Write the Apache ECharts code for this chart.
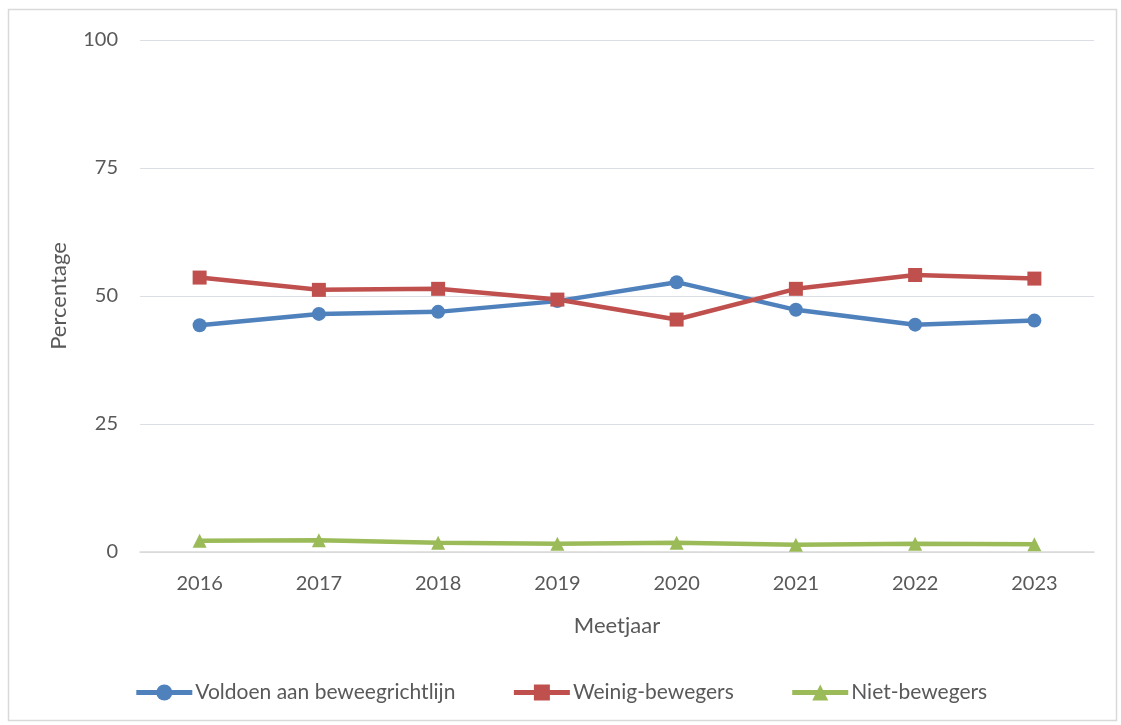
<!DOCTYPE html>
<html><head><meta charset="utf-8">
<script src="https://cdn.jsdelivr.net/npm/echarts@6/dist/echarts.min.js"></script>
<style>html,body{margin:0;padding:0;background:#fff}#c{width:1121px;height:725px}</style>
</head><body><div id="c"></div>
<script>
const years = ['2016','2017','2018','2019','2020','2021','2022','2023'];
const voldoen = [44.3, 46.5, 46.9, 49.0, 52.7, 47.3, 44.4, 45.2];
const weinig = [53.6, 51.2, 51.4, 49.3, 45.4, 51.4, 54.1, 53.4];
const niet = [2.2, 2.3, 1.8, 1.6, 1.8, 1.4, 1.6, 1.5];
const yTicks = [0, 25, 50, 75, 100];
const txt = '#595959';
const font = 'Lato, "Open Sans", sans-serif';
const chart = echarts.init(document.getElementById('c'));
function ser(name, data, color, symbol, size) {
  return {name, type:'line', data, symbol, symbolSize:size,
    lineStyle:{color, width:4.5}, itemStyle:{color}, color, z: 3};
}
chart.setOption({
  animation:false,
  textStyle:{fontFamily:font, color:txt},
  graphic:[{type:'rect', shape:{x:8.5,y:9.5,width:1108,height:711}, style:{fill:null, stroke:'#d9d9d9', lineWidth:1.5}, silent:true}],
  grid:{left:140, right:27, top:40, bottom:173},
  xAxis:{type:'category', data:years, boundaryGap:true,
    name:'Meetjaar', nameLocation:'middle', nameGap:63,
    nameTextStyle:{fontSize:22, color:txt, fontFamily:font},
    axisLine:{show:true, lineStyle:{color:'#d9d9d9', width:1.5}},
    axisTick:{show:false},
    axisLabel:{fontSize:20, color:txt, margin:22, fontFamily:font}},
  yAxis:{type:'value', min:yTicks[0], max:yTicks[yTicks.length-1], interval:25,
    name:'Percentage', nameLocation:'middle', nameGap:70, nameRotate:90,
    nameTextStyle:{fontSize:22, color:txt, fontFamily:font},
    axisLine:{show:false}, axisTick:{show:false},
    axisLabel:{fontSize:20, color:txt, margin:22, fontFamily:font}},
  legend:{bottom:17, left:'center', itemWidth:56, itemHeight:20, itemGap:56,
    lineStyle:{width:5},
    textStyle:{fontSize:21, color:txt, fontFamily:font, padding:[0,0,0,-2]},
    data:['Voldoen aan beweegrichtlijn','Weinig-bewegers','Niet-bewegers']},
  series:[
    ser('Voldoen aan beweegrichtlijn', voldoen, '#4F81BD', 'circle', 14),
    ser('Weinig-bewegers', weinig, '#C0504D', 'rect', 14),
    ser('Niet-bewegers', niet, '#9BBB59', 'triangle', 14)
  ]
});
</script></body></html>
